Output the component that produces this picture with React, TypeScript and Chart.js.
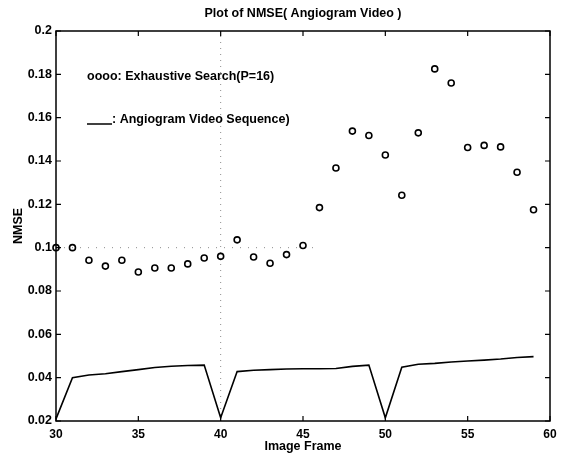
import React, { useEffect, useRef } from "react";
import { Chart, registerables } from "chart.js";

Chart.register(...registerables);

// ---- data ----
const frames = [30, 31, 32, 33, 34, 35, 36, 37, 38, 39, 40, 41, 42, 43, 44, 45, 46, 47, 48, 49, 50, 51, 52, 53, 54, 55, 56, 57, 58, 59];
const exhaustiveNmse = [
  0.1, 0.1, 0.0942, 0.0915, 0.0942, 0.0888, 0.0906, 0.0906, 0.0925, 0.0952,
  0.096, 0.1036, 0.0957, 0.0928, 0.0968, 0.101, 0.1185, 0.1368, 0.1538, 0.1518,
  0.1428, 0.1242, 0.153, 0.1825, 0.176, 0.1462, 0.1472, 0.1465, 0.1348, 0.1175,
];
const sequenceNmse = [
  0.021, 0.04, 0.0412, 0.0418, 0.0428, 0.0437, 0.0447, 0.0453, 0.0456, 0.0458,
  0.0215, 0.0428, 0.0434, 0.0437, 0.044, 0.0441, 0.0441, 0.0442, 0.0452, 0.0458,
  0.0215, 0.0448, 0.0462, 0.0466, 0.0472, 0.0477, 0.0481, 0.0486, 0.0493, 0.0497,
];
const xTicks = [30, 35, 40, 45, 50, 55, 60];
const yTicks = [0.02, 0.04, 0.06, 0.08, 0.1, 0.12, 0.14, 0.16, 0.18, 0.2];
const guideVX = [40, 40];
const guideVY = [0.02, 0.2];
const guideHX = [30, 46];
const guideHY = [0.1, 0.1];

const titleText = "Plot of NMSE( Angiogram Video )";
const xTitle = "Image Frame";
const yTitle = "NMSE";
const legendSearch = "oooo: Exhaustive Search(P=16)";
const legendSequence = ": Angiogram Video Sequence)";

const FONT = "'Liberation Sans', Arial, Helvetica, sans-serif";

const decorPlugin = {
  id: "decor",
  afterDraw(chart: any) {
    const { ctx, chartArea } = chart;
    const xs = chart.scales.x;
    const ys = chart.scales.y;
    const { left, right, top, bottom } = chartArea;
    ctx.save();
    ctx.strokeStyle = "#000";
    ctx.lineWidth = 1.5;
    ctx.strokeRect(left, top, right - left, bottom - top);
    ctx.lineWidth = 1.2;
    const tl = 5;
    ctx.beginPath();
    xTicks.forEach((v) => {
      const px = xs.getPixelForValue(v);
      ctx.moveTo(px, bottom);
      ctx.lineTo(px, bottom - tl);
      ctx.moveTo(px, top);
      ctx.lineTo(px, top + tl);
    });
    yTicks.forEach((v) => {
      const py = ys.getPixelForValue(v);
      ctx.moveTo(left, py);
      ctx.lineTo(left + tl, py);
      ctx.moveTo(right, py);
      ctx.lineTo(right - tl, py);
    });
    ctx.stroke();

    ctx.fillStyle = "#000";
    ctx.textBaseline = "middle";
    // title
    ctx.font = `bold 12.5px ${FONT}`;
    ctx.textAlign = "center";
    ctx.fillText(titleText, (left + right) / 2, 14);
    // x title
    ctx.fillText(xTitle, (left + right) / 2, 447);
    // y title
    ctx.save();
    ctx.translate(19, (top + bottom) / 2);
    ctx.rotate(-Math.PI / 2);
    ctx.fillText(yTitle, 0, 0);
    ctx.restore();

    // legend text
    ctx.font = `bold 12.5px ${FONT}`;
    ctx.textAlign = "left";
    ctx.fillText(legendSearch, 87, 77);
    ctx.lineWidth = 1.5;
    ctx.beginPath();
    ctx.moveTo(87, 124);
    ctx.lineTo(112, 124);
    ctx.stroke();
    ctx.fillText(legendSequence, 112, 120);
    ctx.restore();
  },
};

export default function App() {
  const ref = useRef<HTMLCanvasElement | null>(null);

  useEffect(() => {
    if (!ref.current) return;
    const chart = new Chart(ref.current, {
      type: "line",
      data: {
        datasets: [
          {
            label: "guideV",
            data: guideVX.map((x, i) => ({ x, y: guideVY[i] })),
            borderColor: "rgba(0,0,0,0.45)",
            borderWidth: 1,
            borderDash: [1, 5],
            pointRadius: 0,
            fill: false,
          },
          {
            label: "guideH",
            data: guideHX.map((x, i) => ({ x, y: guideHY[i] })),
            borderColor: "rgba(0,0,0,0.45)",
            borderWidth: 1,
            borderDash: [1, 7],
            pointRadius: 0,
            fill: false,
          },
          {
            label: "Angiogram Video Sequence",
            data: frames.map((x, i) => ({ x, y: sequenceNmse[i] })),
            borderColor: "#000",
            borderWidth: 1.6,
            pointRadius: 0,
            tension: 0,
            fill: false,
            clip: false as any,
          },
          {
            label: "Exhaustive Search(P=16)",
            data: frames.map((x, i) => ({ x, y: exhaustiveNmse[i] })),
            showLine: false,
            pointStyle: "circle",
            pointRadius: 3,
            pointBorderWidth: 1.6,
            pointBorderColor: "#000",
            pointBackgroundColor: "#fff",
            borderColor: "#000",
            clip: false as any,
          },
        ],
      },
      options: {
        responsive: false,
        animation: false,
        events: [],
        layout: { padding: { left: 0, right: 15, top: 31, bottom: 0 } },
        plugins: {
          legend: { display: false },
          title: { display: false },
          tooltip: { enabled: false },
        },
        scales: {
          x: {
            type: "linear",
            min: 30,
            max: 60,
            grid: { display: false, drawTicks: false },
            border: { display: false },
            afterBuildTicks: (s: any) => {
              s.ticks = xTicks.map((v) => ({ value: v }));
            },
            afterFit: (s: any) => {
              s.height = 34;
            },
            ticks: {
              padding: 6,
              autoSkip: false,
              maxRotation: 0,
              color: "#000",
              font: { family: FONT, size: 12, weight: "bold" },
              callback: (v: any) => String(v),
            },
          },
          y: {
            type: "linear",
            min: 0.02,
            max: 0.2,
            grid: { display: false, drawTicks: false },
            border: { display: false },
            afterBuildTicks: (s: any) => {
              s.ticks = yTicks.map((v) => ({ value: v }));
            },
            afterFit: (s: any) => {
              s.width = 56;
            },
            ticks: {
              padding: 4,
              color: "#000",
              font: { family: FONT, size: 12.5, weight: "bold" },
              callback: (v: any) => String(parseFloat(Number(v).toFixed(2))),
            },
          },
        },
      },
      plugins: [decorPlugin],
    } as any);
    return () => chart.destroy();
  }, []);

  return (
    <div style={{ position: "fixed", left: 0, top: 0, width: 565, height: 455, background: "#fff" }}>
      <canvas ref={ref} width={565} height={455} style={{ display: "block" }} />
    </div>
  );
}
